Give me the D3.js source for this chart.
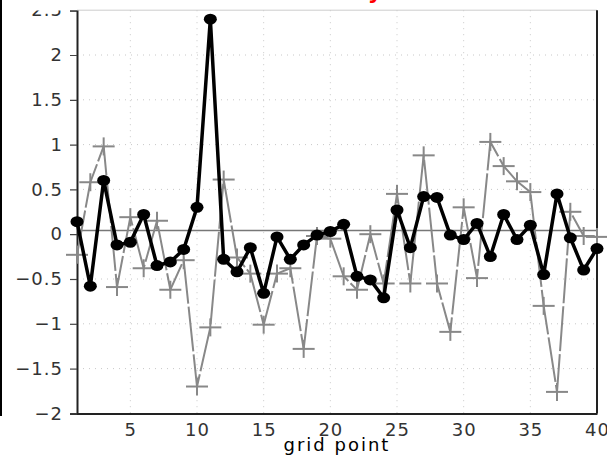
<!DOCTYPE html>
<html>
<head>
<meta charset="utf-8">
<script src="https://cdn.jsdelivr.net/npm/d3@7"></script>
<style>
  body { margin: 0; background: #fff; }
  svg { display: block; }
</style>
</head>
<body>
<div id="chart"></div>
<script>
// grid point index 1..40
const gridPoints = d3.range(1, 41);

// black series (filled dots)
const seriesDots = [
  0.14, -0.58, 0.60, -0.12, -0.09, 0.22, -0.35, -0.31, -0.17, 0.30,
  2.40, -0.28, -0.42, -0.15, -0.66, -0.03, -0.28, -0.12, -0.01, 0.03,
  0.11, -0.47, -0.51, -0.71, 0.27, -0.15, 0.42, 0.41, -0.01, -0.06,
  0.12, -0.25, 0.22, -0.06, 0.10, -0.45, 0.45, -0.04, -0.40, -0.16
];

// gray series (plus markers)
const seriesPlus = [
  -0.23, 0.58, 0.98, -0.59, 0.19, -0.38, 0.15, -0.62, -0.29, -1.70,
  -1.04, 0.61, -0.26, -0.44, -1.01, -0.44, -0.38, -1.28, -0.02, -0.05,
  -0.47, -0.62, 0.00, -0.55, 0.45, -0.55, 0.88, -0.55, -1.09, 0.30,
  -0.49, 1.03, 0.76, 0.59, 0.47, -0.80, -1.76, 0.25, -0.02, -0.03
];

const xTicks = [5, 10, 15, 20, 25, 30, 35, 40];
const yTicks = [-2, -1.5, -1, -0.5, 0, 0.5, 1, 1.5, 2, 2.5];
const refValue = 0.04;

const width = 607, height = 457;
const margin = { top: 10.2, right: 10, bottom: 43.6, left: 77 };

const svg = d3.select('#chart').append('svg')
  .attr('width', width)
  .attr('height', height);

const x = d3.scaleLinear().domain([1, 40]).range([margin.left, width - margin.right]);
const y = d3.scaleLinear().domain([-2, 2.5]).range([height - margin.bottom, margin.top]);

const fmt = d => (d < 0 ? '\u2212' : '') + Math.abs(d);

// the top tick label is cut at the frame top in the original
// (rect is in the axis group's own coordinates)
svg.append('defs').append('clipPath')
  .attr('id', 'yclip')
  .append('rect')
  .attr('x', -margin.left).attr('y', margin.top + 0.3)
  .attr('width', margin.left + 5).attr('height', height);

// left frame line from neighbouring panel
svg.append('line')
  .attr('x1', 1).attr('x2', 1)
  .attr('y1', 0).attr('y2', 416)
  .attr('stroke', '#000').attr('stroke-width', 2);

// red title, mostly above the visible area
svg.append('text')
  .attr('x', 382).attr('y', -1)
  .attr('text-anchor', 'end')
  .attr('font-family', 'DejaVu Sans, sans-serif')
  .attr('font-weight', 'bold')
  .attr('font-size', 22)
  .attr('fill', 'red')
  .text('anomaly');

// dotted grid
svg.append('g')
  .selectAll('line')
  .data(xTicks.filter(d => d < 40))
  .join('line')
  .attr('x1', d => x(d)).attr('x2', d => x(d))
  .attr('y1', y(2.5)).attr('y2', y(-2))
  .attr('stroke', '#c8c8c8').attr('stroke-width', 1)
  .attr('stroke-dasharray', '1,5');

svg.append('g')
  .selectAll('line')
  .data(yTicks.filter(d => d > -2 && d < 2.5 && d !== 0))
  .join('line')
  .attr('x1', x(1)).attr('x2', x(40))
  .attr('y1', d => y(d)).attr('y2', d => y(d))
  .attr('stroke', '#c8c8c8').attr('stroke-width', 1)
  .attr('stroke-dasharray', '1,5');

// frame top (light)
svg.append('line')
  .attr('x1', x(1)).attr('x2', x(40))
  .attr('y1', y(2.5)).attr('y2', y(2.5))
  .attr('stroke', '#ccc').attr('stroke-width', 1);

// reference line
svg.append('line')
  .attr('x1', x(1)).attr('x2', x(40))
  .attr('y1', y(refValue)).attr('y2', y(refValue))
  .attr('stroke', '#777').attr('stroke-width', 1.5);

// axes
const yAxis = svg.append('g')
  .attr('transform', `translate(${x(1)},0)`)
  .attr('clip-path', 'url(#yclip)')
  .call(d3.axisLeft(y).tickValues(yTicks).tickFormat(fmt).tickSize(7).tickPadding(7));
yAxis.select('.domain').attr('stroke', '#222').attr('stroke-width', 2);
yAxis.selectAll('.tick line').attr('stroke', '#444').attr('stroke-width', 1.2);
yAxis.selectAll('.tick text')
  .attr('font-family', 'DejaVu Sans, sans-serif')
  .attr('font-size', 18)
  .attr('letter-spacing', 1)
  .attr('fill', '#333');

const xAxis = svg.append('g')
  .attr('transform', `translate(0,${y(-2)})`)
  .call(d3.axisBottom(x).tickValues(xTicks).tickSize(0).tickPadding(10));
xAxis.select('.domain').attr('stroke', '#222').attr('stroke-width', 2);
xAxis.selectAll('.tick text')
  .attr('font-family', 'DejaVu Sans, sans-serif')
  .attr('font-size', 18)
  .attr('letter-spacing', 1)
  .attr('fill', '#333');

// right frame
svg.append('line')
  .attr('x1', x(40)).attr('x2', x(40))
  .attr('y1', y(2.5)).attr('y2', y(-2))
  .attr('stroke', '#222').attr('stroke-width', 2);

// x title
svg.append('text')
  .attr('x', (x(1) + x(40)) / 2)
  .attr('y', 451)
  .attr('text-anchor', 'middle')
  .attr('font-family', 'DejaVu Sans, sans-serif')
  .attr('font-size', 18)
  .attr('letter-spacing', 2)
  .attr('fill', '#000')
  .text('grid point');

const plot = svg.append('g');

// gray series
const linePlus = d3.line().x((d, i) => x(gridPoints[i])).y(d => y(d));
plot.append('path')
  .datum(seriesPlus)
  .attr('d', linePlus)
  .attr('fill', 'none')
  .attr('stroke', '#888')
  .attr('stroke-width', 2)
  .attr('stroke-dasharray', '45,3');

const plus = plot.append('g')
  .selectAll('g')
  .data(seriesPlus)
  .join('g')
  .attr('transform', (d, i) => `translate(${x(gridPoints[i])},${y(d)})`);
plus.append('line').attr('x1', -11).attr('x2', 11).attr('y1', 0).attr('y2', 0);
plus.append('line').attr('x1', 0).attr('x2', 0).attr('y1', -9).attr('y2', 9);
plus.selectAll('line').attr('stroke', '#888').attr('stroke-width', 2);

// black series
const lineDots = d3.line().x((d, i) => x(gridPoints[i])).y(d => y(d));
plot.append('path')
  .datum(seriesDots)
  .attr('d', lineDots)
  .attr('fill', 'none')
  .attr('stroke', '#000')
  .attr('stroke-width', 3.5)
  .attr('stroke-linejoin', 'round');

plot.append('g')
  .selectAll('ellipse')
  .data(seriesDots)
  .join('ellipse')
  .attr('cx', (d, i) => x(gridPoints[i]))
  .attr('cy', d => y(d))
  .attr('rx', 6.5)
  .attr('ry', 5.5)
  .attr('fill', '#000');
</script>
</body>
</html>
